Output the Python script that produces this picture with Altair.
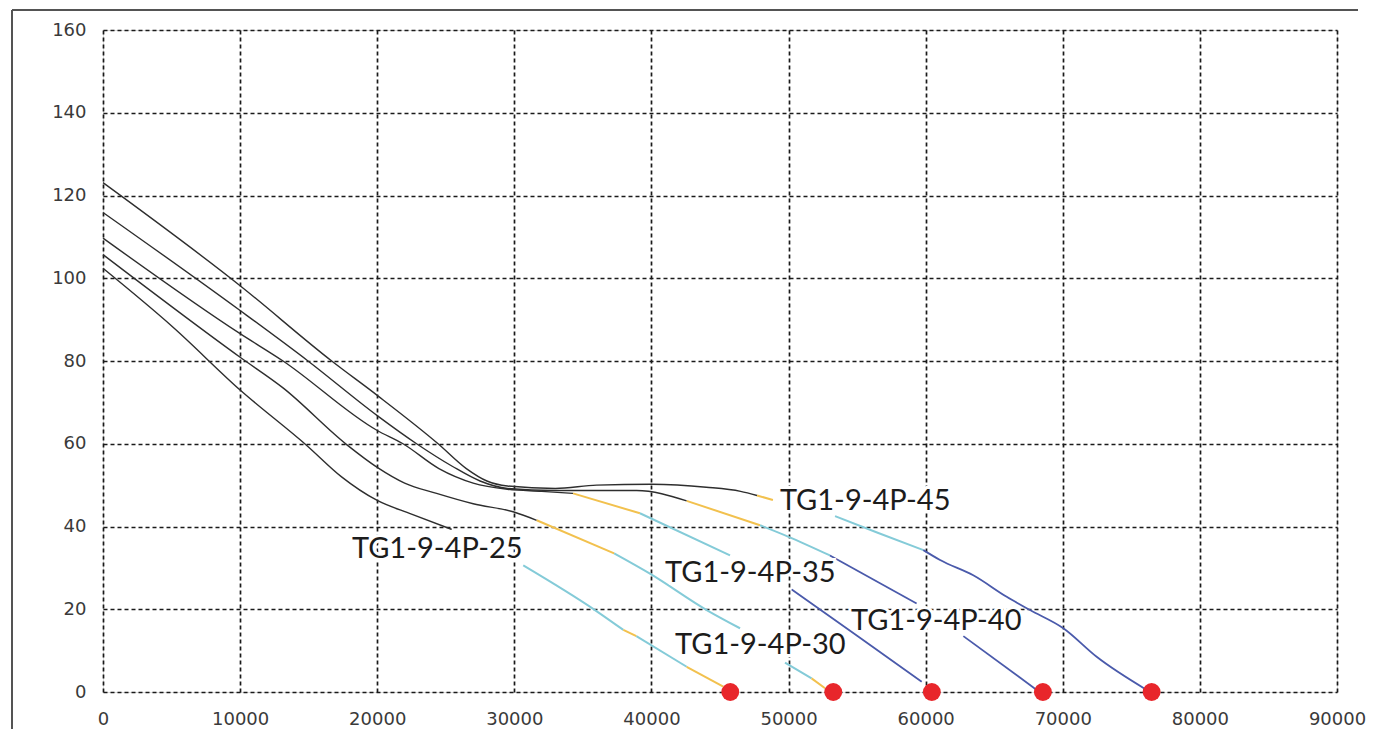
import altair as alt
import pandas as pd

# ---------------- data ----------------
BLACK = "#2e2e2e"
YELLOW = "#f2c14e"
CYAN = "#84cbd8"
BLUE = "#4a5aab"

# TG1-9-4P-45
c45_black_x = [0, 10000, 16680, 20000, 24440, 26500, 28000, 29500, 33000, 36000, 40000, 44000, 46500, 47700]
c45_black_y = [123.1, 98.2, 80.0, 71.7, 60.0, 54.0, 51.0, 49.8, 49.2, 50.0, 50.2, 49.5, 48.5, 47.5]
c45_yellow_x = [47700, 48860]
c45_yellow_y = [47.5, 46.4]
c45_cyan_x = [53390, 56500, 59830]
c45_cyan_y = [42.5, 38.5, 34.3]
c45_blue_x = [59830, 61050, 63470, 65910, 67610, 70040, 72470, 76120]
c45_blue_y = [34.3, 31.9, 28.2, 23.0, 19.8, 15.4, 8.5, 0.5]

# TG1-9-4P-40
c40_black_x = [0, 10000, 14950, 20000, 22870, 25500, 27500, 29500, 33000, 38920, 42570]
c40_black_y = [115.9, 92.2, 80.0, 66.8, 60.0, 54.5, 51.0, 49.2, 48.7, 48.7, 46.2]
c40_yellow_x = [42570, 47920]
c40_yellow_y = [46.2, 40.3]
c40_cyan_x = [47920, 50000, 53020]
c40_cyan_y = [40.3, 37.5, 33.0]
c40_blue1_x = [53020, 59340]
c40_blue1_y = [33.0, 21.4]
c40_blue2_x = [62750, 68100]
c40_blue2_y = [13.5, 0.5]

# TG1-9-4P-35
c35_black_x = [0, 10000, 13130, 20000, 21880, 24500, 27000, 29500, 32000, 34280]
c35_black_y = [109.7, 86.6, 80.0, 63.2, 60.0, 54.0, 50.5, 49.0, 48.5, 48.0]
c35_yellow_x = [34280, 39160]
c35_yellow_y = [48.0, 43.2]
c35_cyan_x = [39160, 45730]
c35_cyan_y = [43.2, 33.0]
c35_blue_x = [50230, 55000, 59710]
c35_blue_y = [24.8, 13.6, 2.5]

# TG1-9-4P-30
c30_black_x = [0, 10000, 13130, 17770, 20000, 22000, 24330, 27000, 29970, 31630]
c30_black_y = [105.7, 80.9, 73.5, 59.8, 54.3, 50.5, 48.0, 45.5, 43.5, 41.5]
c30_yellow_x = [31630, 37280]
c30_yellow_y = [41.5, 33.5]
c30_cyan1_x = [37280, 39890, 44030, 46460]
c30_cyan1_y = [33.5, 28.6, 19.8, 15.4]
c30_cyan2_x = [49740, 51680]
c30_cyan2_y = [7.1, 3.3]
c30_yellow2_x = [51680, 52660]
c30_yellow2_y = [3.3, 0.9]

# TG1-9-4P-25
c25_black_x = [0, 5130, 10000, 14860, 17400, 20000, 22500, 25430]
c25_black_y = [102.4, 88.1, 73.0, 59.6, 52.0, 46.3, 43.0, 39.3]
c25_cyan1_x = [30650, 35880, 37950]
c25_cyan1_y = [30.6, 19.8, 15.0]
c25_yellow1_x = [37950, 38900]
c25_yellow1_y = [15.0, 13.5]
c25_cyan2_x = [38900, 42570]
c25_cyan2_y = [13.5, 6.1]
c25_yellow2_x = [42570, 45240]
c25_yellow2_y = [6.1, 1.3]

# end points (red dots)
dot_x = [45750, 53260, 60450, 68550, 76480]
dot_y = [0, 0, 0, 0, 0]

# labels
label_text = ["TG1-9-4P-45", "TG1-9-4P-35", "TG1-9-4P-40", "TG1-9-4P-30", "TG1-9-4P-25"]
label_x = [49370, 40990, 54550, 41720, 18160]
label_y = [43.9, 26.6, 15.0, 9.3, 32.3]

x_ticks = list(range(0, 90001, 10000))
y_ticks = list(range(0, 161, 20))

# ---------------- build tables ----------------
segments = [
    (c45_black_x, c45_black_y, BLACK, 1.4),
    (c45_yellow_x, c45_yellow_y, YELLOW, 2.0),
    (c45_cyan_x, c45_cyan_y, CYAN, 2.0),
    (c45_blue_x, c45_blue_y, BLUE, 1.8),
    (c40_black_x, c40_black_y, BLACK, 1.4),
    (c40_yellow_x, c40_yellow_y, YELLOW, 2.0),
    (c40_cyan_x, c40_cyan_y, CYAN, 2.0),
    (c40_blue1_x, c40_blue1_y, BLUE, 1.8),
    (c40_blue2_x, c40_blue2_y, BLUE, 1.8),
    (c35_black_x, c35_black_y, BLACK, 1.4),
    (c35_yellow_x, c35_yellow_y, YELLOW, 2.0),
    (c35_cyan_x, c35_cyan_y, CYAN, 2.0),
    (c35_blue_x, c35_blue_y, BLUE, 1.8),
    (c30_black_x, c30_black_y, BLACK, 1.4),
    (c30_yellow_x, c30_yellow_y, YELLOW, 2.0),
    (c30_cyan1_x, c30_cyan1_y, CYAN, 2.0),
    (c30_cyan2_x, c30_cyan2_y, CYAN, 2.0),
    (c30_yellow2_x, c30_yellow2_y, YELLOW, 2.0),
    (c25_black_x, c25_black_y, BLACK, 1.4),
    (c25_cyan1_x, c25_cyan1_y, CYAN, 2.0),
    (c25_yellow1_x, c25_yellow1_y, YELLOW, 2.0),
    (c25_cyan2_x, c25_cyan2_y, CYAN, 2.0),
    (c25_yellow2_x, c25_yellow2_y, YELLOW, 2.0),
]

rows = []
for sid, (xs, ys, col, w) in enumerate(segments):
    for i, (xv, yv) in enumerate(zip(xs, ys)):
        rows.append({"x": xv, "y": yv, "seg": sid, "ord": i, "color": col, "w": w})
lines_df = pd.DataFrame(rows)
dots_df = pd.DataFrame({"x": dot_x, "y": dot_y})
labels_df = pd.DataFrame({"x": label_x, "y": label_y, "t": label_text})

xscale = alt.Scale(domain=[0, 90000], nice=False, zero=False)
yscale = alt.Scale(domain=[0, 160], nice=False)

xaxis = alt.Axis(values=x_ticks, title=None, format="d", grid=True, gridDash=[4, 3],
                 gridColor="#1a1a1a", gridWidth=1.7, domain=False, ticks=False,
                 labelFont="DejaVu Sans", labelFontSize=18, labelColor="#3a3a3a",
                 labelPadding=18, labelFlush=False)
yaxis = alt.Axis(values=y_ticks, title=None, format="d", grid=True, gridDash=[4, 3],
                 gridColor="#1a1a1a", gridWidth=1.7, domain=False, ticks=False,
                 labelFont="DejaVu Sans", labelFontSize=18, labelColor="#3a3a3a",
                 labelPadding=17)

lines = alt.Chart(lines_df).mark_line(interpolate="monotone").encode(
    x=alt.X("x:Q", scale=xscale, axis=xaxis),
    y=alt.Y("y:Q", scale=yscale, axis=yaxis),
    detail="seg:N",
    order="ord:Q",
    color=alt.Color("color:N", scale=None),
    strokeWidth=alt.StrokeWidth("w:Q", scale=None),
)

dots = alt.Chart(dots_df).mark_point(filled=True, size=320, color="#e8262b", opacity=1).encode(
    x=alt.X("x:Q", scale=xscale),
    y=alt.Y("y:Q", scale=yscale),
)

halo = alt.Chart(labels_df).mark_text(
    align="left", baseline="alphabetic", font="Lato", fontSize=29,
    fill="white", stroke="white", strokeWidth=6, strokeJoin="miter",
).encode(x=alt.X("x:Q", scale=xscale), y=alt.Y("y:Q", scale=yscale), text="t:N")

labels = alt.Chart(labels_df).mark_text(
    align="left", baseline="alphabetic", font="Lato", fontSize=29, color="#1c1c1c",
).encode(x=alt.X("x:Q", scale=xscale), y=alt.Y("y:Q", scale=yscale), text="t:N")

frame_top = alt.Chart(dots_df).mark_rule(color="#555555", strokeWidth=1.5).encode(
    x=alt.value(-91), x2=alt.value(1255), y=alt.value(-20))
frame_left = alt.Chart(dots_df).mark_rule(color="#555555", strokeWidth=1.5).encode(
    x=alt.value(-91), y=alt.value(-20), y2=alt.value(720))

chart = alt.layer(lines, dots, halo, labels, frame_top, frame_left).properties(
    width=1234, height=662,
    autosize=alt.AutoSizeParams(type="none"),
    padding={"left": 95, "top": 22, "right": 29, "bottom": 37},
).configure_view(stroke=None).configure(background="white")

chart.save("out.html", embed_options={"renderer": "svg", "actions": False})
